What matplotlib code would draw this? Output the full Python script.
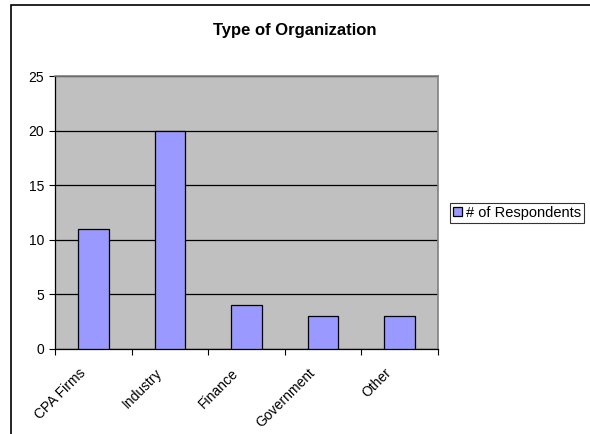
import numpy as np
import matplotlib.pyplot as plt
from matplotlib.patches import Rectangle
from matplotlib.transforms import ScaledTranslation

# chart data
categories = ["CPA Firms", "Industry", "Finance", "Government", "Other"]
respondents = [11, 20, 4, 3, 3]
y_ticks = [0, 5, 10, 15, 20, 25]

plt.rcParams['font.family'] = ['Liberation Sans', 'DejaVu Sans']

fig = plt.figure(figsize=(5.9, 4.34), dpi=100)
ax = fig.add_axes([55 / 590, 1 - 349 / 434, (438 - 55) / 590, (349 - 76) / 434])

# outer chart border (clipped by the image edge at right/bottom)
fig.patches.append(Rectangle((11 / 590, -0.1), 1.2, 1 - 5 / 434 + 0.1,
                             transform=fig.transFigure, fill=False,
                             edgecolor='black', linewidth=1.2))

x = np.arange(len(categories))
ax.set_facecolor('#C0C0C0')
ax.bar(x, respondents, width=0.4, color='#9999FF', edgecolor='black',
       linewidth=0.9, zorder=3, label='# of Respondents')

ax.set_xlim(-0.5, len(categories) - 0.5)
ax.set_ylim(0, 25)
ax.set_yticks(y_ticks)
ax.yaxis.grid(True, color='black', linewidth=0.9)
ax.set_axisbelow(True)

ax.set_xticks(x)
ax.set_xticklabels(categories, rotation=45, ha='right', rotation_mode='anchor',
                   fontsize=10)
ax.tick_params(axis='x', which='major', length=0, pad=12)
ax.set_xticks(np.arange(len(categories) + 1) - 0.5, minor=True)
ax.tick_params(axis='x', which='minor', length=4, width=0.8, direction='out')
ax.tick_params(axis='y', labelsize=10, length=4, width=0.8, direction='out', pad=4)

# nudge the slanted labels left like the original
shift = ScaledTranslation(-15 / 100, 0, fig.dpi_scale_trans)
for lbl in ax.get_xticklabels():
    lbl.set_transform(lbl.get_transform() + shift)

for side in ['top', 'right']:
    ax.spines[side].set_color('#808080')
    ax.spines[side].set_linewidth(1.2)
for side in ['left', 'bottom']:
    ax.spines[side].set_color('black')
    ax.spines[side].set_linewidth(0.9)

fig.text(295 / 590, 1 - 31 / 434, "Type of Organization", ha='center',
         va='center', fontsize=12, fontweight='bold')

leg = fig.legend(loc='center left', bbox_to_anchor=(450 / 590, 1 - 213 / 434),
                 fontsize=10.5, frameon=True, fancybox=False, handlelength=0.6,
                 handleheight=0.6, handletextpad=0.3, borderpad=0.2,
                 borderaxespad=0)
leg.get_frame().set_edgecolor('black')
leg.get_frame().set_linewidth(0.8)

fig.savefig('out.png', dpi=100)
